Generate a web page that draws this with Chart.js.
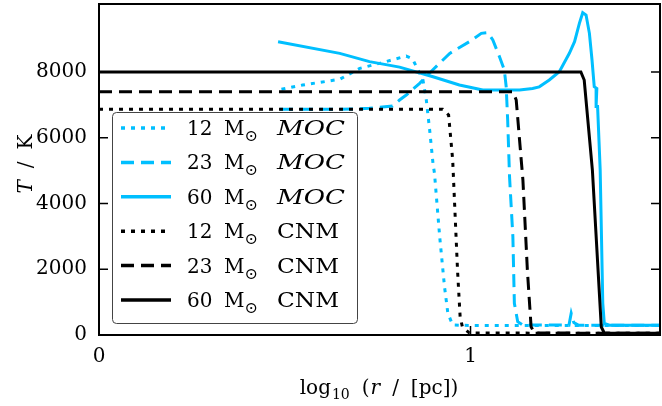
<!DOCTYPE html>
<html>
<head>
<meta charset="utf-8">
<script src="https://cdn.jsdelivr.net/npm/chart.js@4.4.1/dist/chart.umd.min.js"></script>
<style>
  html, body { margin: 0; padding: 0; background: #fff; }
  #wrap { width: 662px; height: 406px; }
</style>
</head>
<body>
<div id="wrap"><canvas id="temp-chart" width="662" height="406"></canvas></div>
<script>
// data: log10(r/pc) vs T [K]
const xMoc12 = [0.491, 0.548, 0.648, 0.702, 0.755, 0.827, 0.844, 0.872, 0.881, 0.890, 0.899, 0.903, 0.917, 0.930, 0.939, 0.952, 0.997, 1.51];
const yMoc12 = [7474, 7605, 7779, 8113, 8265, 8487, 8400, 7757, 7149, 6236, 5223, 4918, 2990, 1469, 660, 304, 290, 290];

const xMoc23 = [0.487, 0.648, 0.728, 0.790, 0.809, 0.827, 0.863, 0.898, 0.944, 0.997, 1.029, 1.047, 1.060, 1.078, 1.091, 1.096, 1.100, 1.105, 1.114, 1.118, 1.127, 1.140, 1.265, 1.271, 1.278, 1.290, 1.51];
const yMoc23 = [6866, 6866, 6896, 6966, 7149, 7300, 7657, 8061, 8569, 8924, 9177, 9197, 8974, 8466, 8061, 7554, 6540, 4816, 2990, 964, 405, 304, 300, 660, 380, 300, 300];

const xMoc60 = [0.482, 0.648, 0.728, 0.809, 0.899, 0.970, 1.033, 1.078, 1.132, 1.167, 1.185, 1.212, 1.239, 1.266, 1.280, 1.293, 1.302, 1.311, 1.320, 1.327, 1.333, 1.340, 1.338, 1.342, 1.349, 1.356, 1.360, 1.374, 1.51];
const yMoc60 = [8924, 8569, 8316, 8150, 7858, 7605, 7453, 7453, 7453, 7500, 7550, 7757, 8010, 8569, 8924, 9481, 9805, 9734, 9177, 8366, 7554, 7500, 6950, 6950, 5019, 964, 355, 300, 300];

const xCnm12 = [0, 0.925, 0.941, 0.952, 0.965, 0.972, 0.978, 0.997, 1.51];
const yCnm12 = [6870, 6870, 6692, 5323, 1977, 557, 252, 60, 50];

const xCnm23 = [0, 1.114, 1.123, 1.141, 1.153, 1.163, 1.172, 1.51];
const yCnm23 = [7400, 7400, 7149, 4715, 1977, 252, 60, 50];

const xCnm60 = [0, 1.297, 1.306, 1.328, 1.352, 1.360, 1.51];
const yCnm60 = [8000, 8000, 7757, 5019, 243, 60, 50];

const legendMass = ['12', '23', '60', '12', '23', '60'];
const legendModel = ['MOC', 'MOC', 'MOC', 'CNM', 'CNM', 'CNM'];

const xTicks = [0, 1];
const yTicks = [0, 2000, 4000, 6000, 8000];

const CYAN = '#00bfff';
const DOT = [4, 6];
const DASH = [13, 7];
const SERIF = '"DejaVu Serif", "DejaVu Sans", serif';

function pts(xs, ys) {
  return xs.map((x, i) => ({ x: x, y: ys[i] }));
}

function line(xs, ys, color, dash, order) {
  return {
    data: pts(xs, ys),
    showLine: true,
    borderColor: color,
    backgroundColor: color,
    borderWidth: 3,
    borderDash: dash,
    pointRadius: 0,
    tension: 0,
    order: order
  };
}

const datasets = [
  line(xMoc12, yMoc12, CYAN, DOT, 6),
  line(xMoc23, yMoc23, CYAN, DASH, 5),
  line(xMoc60, yMoc60, CYAN, [], 4),
  line(xCnm12, yCnm12, '#000', DOT, 3),
  line(xCnm23, yCnm23, '#000', DASH, 2),
  line(xCnm60, yCnm60, '#000', [], 1)
];

// frame + inward ticks
const frame = {
  id: 'frame',
  afterDatasetsDraw(chart) {
    const { ctx, chartArea: { left, right, top, bottom } } = chart;
    const xs = chart.scales.x, ys = chart.scales.y;
    ctx.save();
    ctx.strokeStyle = '#000';
    ctx.lineWidth = 2;
    ctx.setLineDash([]);
    ctx.strokeRect(left, top, right - left, bottom - top);
    ctx.lineWidth = 1.5;
    ctx.beginPath();
    yTicks.forEach(v => {
      const y = ys.getPixelForValue(v);
      ctx.moveTo(left, y); ctx.lineTo(left + 9, y);
      ctx.moveTo(right, y); ctx.lineTo(right - 9, y);
    });
    xTicks.forEach(v => {
      const x = xs.getPixelForValue(v);
      ctx.moveTo(x, bottom); ctx.lineTo(x, bottom - 9);
    });
    ctx.stroke();
    ctx.restore();
  }
};

// draw a list of text pieces, left to right
function runs(ctx, list, x, y) {
  list.forEach(r => {
    ctx.font = r.font;
    ctx.fillText(r.t, x, y + (r.dy || 0));
    x += ctx.measureText(r.t).width + (r.gap || 0);
  });
}
function runsWidth(ctx, list) {
  let w = 0;
  list.forEach(r => { ctx.font = r.font; w += ctx.measureText(r.t).width + (r.gap || 0); });
  return w;
}

const titles = {
  id: 'titles',
  afterDraw(chart) {
    const ctx = chart.ctx;
    ctx.save();
    ctx.fillStyle = '#000';
    ctx.textBaseline = 'alphabetic';
    ctx.textAlign = 'left';

    const f = '20px ' + SERIF, fi = 'italic 20px ' + SERIF, fs = '14px ' + SERIF;
    const xt = [
      { t: 'log', font: f, gap: 1 },
      { t: '10', font: fs, dy: 5, gap: 12 },
      { t: '(', font: f, gap: 1 },
      { t: 'r', font: fi, gap: 12 },
      { t: '/', font: f, gap: 12 },
      { t: '[pc])', font: f }
    ];
    const wx = runsWidth(ctx, xt);
    runs(ctx, xt, 379 - wx / 2, 394);

    const yt = [
      { t: 'T', font: fi, gap: 12 },
      { t: '/', font: f, gap: 12 },
      { t: 'K', font: f }
    ];
    const wy = runsWidth(ctx, yt);
    ctx.translate(32, 164);
    ctx.rotate(-Math.PI / 2);
    runs(ctx, yt, -wy / 2, 0);
    ctx.restore();

    // legend
    ctx.save();
    const bx = 112, by = 112, bw = 245, bh = 211;
    ctx.beginPath();
    ctx.roundRect(bx + 0.5, by + 0.5, bw, bh, 4);
    ctx.fillStyle = 'rgba(255,255,255,0.85)';
    ctx.fill();
    ctx.strokeStyle = '#444';
    ctx.lineWidth = 1;
    ctx.stroke();
    chart.data.datasets.forEach((ds, i) => {
      const cy = 128 + i * 34.4;
      ctx.beginPath();
      ctx.strokeStyle = ds.borderColor;
      ctx.lineWidth = 3.5;
      ctx.setLineDash(ds.borderDash);
      ctx.moveTo(121, cy);
      ctx.lineTo(171, cy);
      ctx.stroke();
      ctx.setLineDash([]);
      ctx.fillStyle = '#000';
      ctx.textAlign = 'left';
      ctx.textBaseline = 'alphabetic';
      ctx.font = f;
      ctx.fillText(legendMass[i], 187, cy + 7);
      ctx.fillText('M', 224, cy + 7);
      const mw = ctx.measureText('M').width;
      ctx.font = '16px ' + SERIF;
      ctx.fillText('\u2299', 224 + mw, cy + 13);
      const italic = legendModel[i] === 'MOC';
      ctx.font = (italic ? 'italic ' : '') + f;
      const w = ctx.measureText(legendModel[i]).width;
      const target = italic ? 68 : 62;
      ctx.save();
      ctx.translate(277, cy + 7);
      ctx.scale(target / w, 1);
      ctx.fillText(legendModel[i], 0, 0);
      ctx.restore();
    });
    ctx.restore();
  }
};

const config = {
  type: 'scatter',
  data: { datasets: datasets },
  options: {
    responsive: false,
    animation: false,
    events: [],
    layout: { autoPadding: false, padding: { top: 4, right: 2, left: 0, bottom: 0 } },
    plugins: {
      legend: { display: false },
      tooltip: { enabled: false }
    },
    scales: {
      x: {
        type: 'linear',
        min: 0,
        max: 1.51,
        afterFit(s) { s.height = 71; s.paddingLeft = 0; s.paddingRight = 0; },
        afterBuildTicks(s) { s.ticks = xTicks.map(v => ({ value: v })); },
        grid: { display: false, drawTicks: false },
        border: { display: false },
        ticks: {
          padding: 10,
          color: '#000',
          font: { family: SERIF, size: 20 },
          maxRotation: 0,
          callback: v => String(v)
        }
      },
      y: {
        type: 'linear',
        min: 0,
        max: 10070,
        afterFit(s) { s.width = 99; s.paddingTop = 0; s.paddingBottom = 0; },
        afterBuildTicks(s) { s.ticks = yTicks.map(v => ({ value: v })); },
        grid: { display: false, drawTicks: false },
        border: { display: false },
        ticks: {
          padding: 12,
          color: '#000',
          font: { family: SERIF, size: 20 },
          callback: v => String(v)
        }
      }
    }
  },
  plugins: [frame, titles]
};

const tempChart = new Chart(document.getElementById('temp-chart'), config);
</script>
</body>
</html>
